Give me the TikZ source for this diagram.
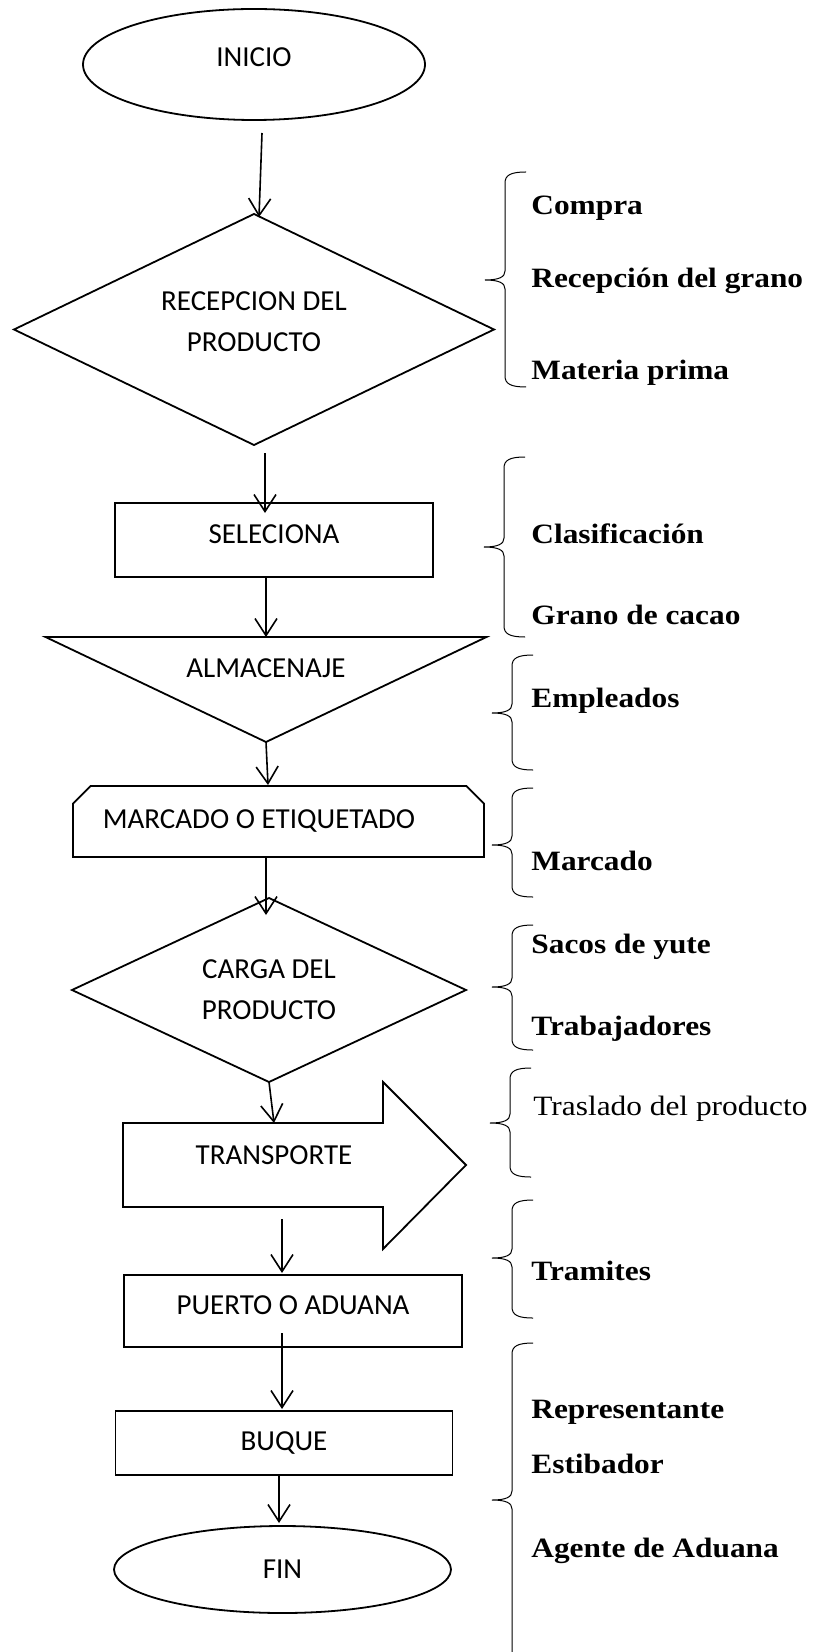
\documentclass[tikz,border=0pt]{standalone}
\usepackage{fontspec}
\setmainfont{Carlito}
\newfontfamily\lblfont[FakeStretch=1.12]{Liberation Serif}
\usepackage{tikz}
\usetikzlibrary{shapes.geometric, shapes.misc, arrows.meta}
\tikzstyle{arrow} = [-{Straight Barb[length=8.5pt, width=11pt]}, line width=0.8pt]
\tikzstyle{plain} = [inner sep=0pt, outer sep=0pt, font=\fontsize{14.5pt}{20.5pt}\selectfont]
\tikzstyle{outline} = [line width=0.9pt]
\tikzstyle{shapeline} = [plain, draw, outline]
\tikzstyle{terminal} = [shapeline, ellipse]
\tikzstyle{decision} = [shapeline, diamond, align=center]
\tikzstyle{process} = [shapeline, rectangle]
\tikzstyle{lbl} = [anchor=base west, inner sep=0pt, font=\lblfont\bfseries\fontsize{14pt}{16pt}\selectfont]
\tikzstyle{bracket} = [line width=0.5pt]
% curly bracket: line x, top, tip, bottom
\newcommand{\llave}[4]{%
  \draw [bracket] ({#1+21},#2) .. controls ({#1+6},#2) and (#1,{#2+3}) .. (#1,{#2+11})
    -- (#1,{#3-9}) .. controls (#1,{#3-3}) and ({#1-6},#3) .. ({#1-20},#3)
    .. controls ({#1-6},#3) and (#1,{#3+3}) .. (#1,{#3+9})
    -- (#1,{#4-11}) .. controls (#1,{#4-3}) and ({#1+6},#4) .. ({#1+21},#4);}

\begin{document}
\begin{tikzpicture}[x=0.5pt, y=-0.5pt, node distance=100pt]
	\useasboundingbox (0,0) rectangle (823,1652);

	\node (inicio) [terminal, minimum width=171pt, minimum height=55.5pt, text depth=7.5pt] at (254,64.5) {INICIO};
	\node (recep) [decision, below of=inicio, yshift=-32.5pt, aspect=2.08, minimum width=240pt, minimum height=115.5pt, text depth=8pt] {RECEPCION DEL\\PRODUCTO};
	\node (selec) [process, below of=recep, xshift=10pt, yshift=-5.25pt, minimum width=159pt, minimum height=37pt, text depth=6pt] {SELECIONA};
	\node (almac) [plain, below of=selec, xshift=-4pt, yshift=36pt] {ALMACENAJE};
	\node (marca) [shapeline, chamfered rectangle, chamfered rectangle corners={north west, north east}, chamfered rectangle xsep=6pt, below of=almac, xshift=6.25pt, yshift=23.25pt, minimum width=205.5pt, minimum height=35.5pt] {MARCADO O ETIQUETADO\hspace*{19.5pt}};
	\node (carga) [decision, below of=marca, xshift=-4.75pt, yshift=15.75pt, aspect=2.14, minimum width=197pt, minimum height=92pt] {CARGA DEL\\PRODUCTO};
	\node (transp) [plain, below of=carga, xshift=2.5pt, yshift=17.5pt] {TRANSPORTE};
	\node (puerto) [process, below of=transp, xshift=9.5pt, yshift=22pt, minimum width=169pt, minimum height=36pt, text depth=6pt] {PUERTO O ADUANA};
	\node (buque) [process, below of=puerto, xshift=-4.5pt, yshift=34pt, minimum width=168.5pt, minimum height=32pt] {BUQUE};
	\node (fin) [terminal, below of=buque, xshift=-0.75pt, yshift=36.75pt, minimum width=168.5pt, minimum height=43.5pt] {FIN};

	\draw [outline] (almac) ++(-220.5,-31) -- ++(441,0) -- ++(-220.5,105) -- cycle;
	\draw [outline] (transp) ++(-151,-32) -- ++(260,0) -- ++(0,-41) -- ++(83,83) -- ++(-83,84) -- ++(0,-42) -- ++(-260,0) -- cycle;

	\draw [arrow] ([xshift=4pt, yshift=-6.5pt]inicio.south) -- ([xshift=2.5pt, yshift=-1.5pt]recep.north);
	\draw [arrow] ([xshift=5.5pt, yshift=-4pt]recep.south) -- ([xshift=-4.5pt, yshift=-5pt]selec.north);
	\draw [arrow] ([xshift=-4pt]selec.south) -- ([yshift=15.5pt]almac.center);
	\draw [arrow] ([yshift=-37pt]almac.center) -- ([xshift=-5.25pt, yshift=0.5pt]marca.north);
	\draw [arrow] ([xshift=-6.25pt]marca.south) -- ([xshift=-1.5pt, yshift=-8.5pt]carga.north);
	\draw [arrow] (carga.south) -- ([yshift=16pt]transp.center);
	\draw [arrow] ([xshift=4pt, yshift=-32pt]transp.center) -- ([xshift=-5.5pt, yshift=1pt]puerto.north);
	\draw [arrow] ([xshift=-5.5pt, yshift=7pt]puerto.south) -- ([xshift=-1pt, yshift=1pt]buque.north);
	\draw [arrow] ([xshift=-2.5pt]buque.south) -- ([xshift=-1.75pt, yshift=1.5pt]fin.north);

	\llave{505}{172}{280}{387}
	\llave{504}{457}{547}{637}
	\llave{512}{655}{713}{770}
	\llave{512}{788}{845}{897}
	\llave{512}{925}{987}{1050}
	\llave{510}{1068}{1123}{1177}
	\llave{512}{1200}{1258}{1318}
	\llave{512}{1343}{1500}{1700}

	\node (compra) [lbl] at (531,215) {Compra};
	\node (recepgrano) [lbl] at (531,288) {Recepción del grano};
	\node (materia) [lbl] at (531,380) {Materia prima};
	\node (clasif) [lbl] at (531,543) {Clasificación};
	\node (grano) [lbl] at (531,624) {Grano de cacao};
	\node (emple) [lbl] at (531,707) {Empleados};
	\node (marcado) [lbl] at (531,870) {Marcado};
	\node (sacos) [lbl] at (531,953) {Sacos de yute};
	\node (trabaj) [lbl] at (531,1035) {Trabajadores};
	\node (traslado) [lbl, font=\lblfont\fontsize{14pt}{16pt}\selectfont] at (533,1115) {Traslado del producto};
	\node (tramites) [lbl] at (531,1280) {Tramites};
	\node (repres) [lbl] at (531,1418) {Representante};
	\node (estib) [lbl] at (531,1473) {Estibador};
	\node (agente) [lbl] at (531,1557) {Agente de Aduana};
\end{tikzpicture}
\end{document}
